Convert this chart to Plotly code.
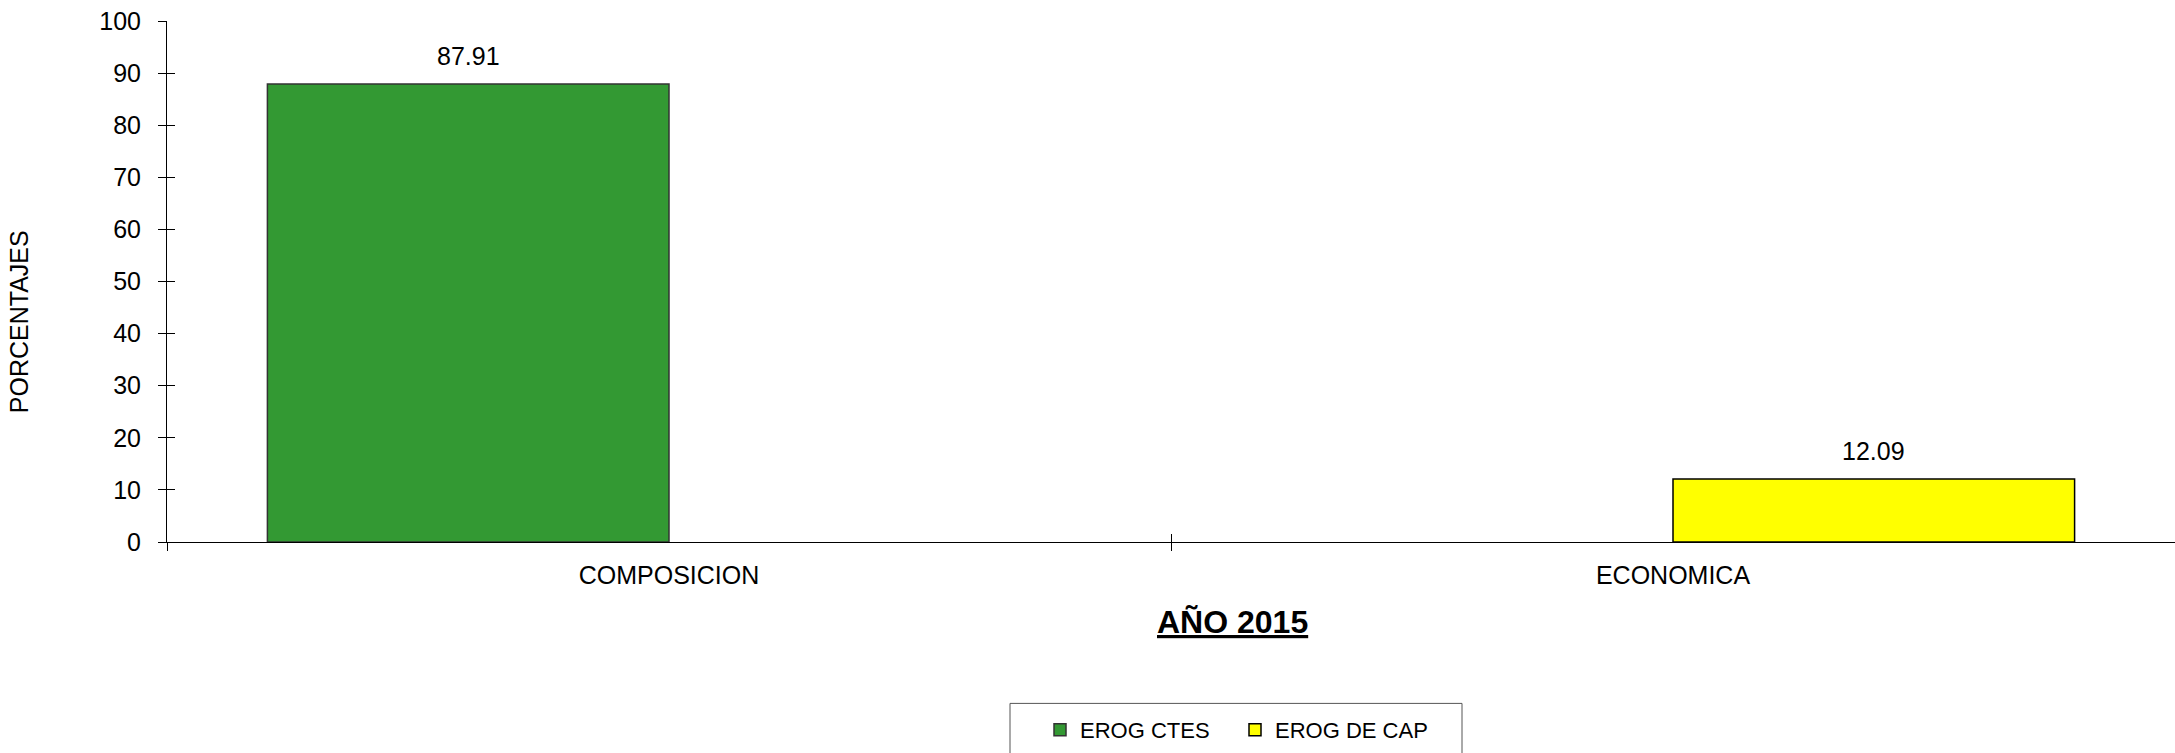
import plotly.graph_objects as go

categories = ["COMPOSICION", "ECONOMICA"]
series_names = ["EROG CTES", "EROG DE CAP"]
erog_ctes = [87.91, None]
erog_cap = [None, 12.09]
y_ticks = [0, 10, 20, 30, 40, 50, 60, 70, 80, 90, 100]

FONT = "Arial, Liberation Sans, sans-serif"
colors = ["#339933", "#FFFF00"]
edges = ["#333333", "#000000"]

W, H = 2175, 753
PLOT_L, PLOT_R, PLOT_T, PLOT_B = 167, 2175, 21, 541.7  # page pixels
ML = PLOT_L
MR = W - PLOT_R
MT = PLOT_T
MB = H - PLOT_B
PW, PH = W - ML - MR, H - MT - MB


def px_x(px):
    return (px - ML) / PW


def px_y(py):
    return (H - MB - py) / PH


fig = go.Figure()
for name, vals, col, edge in zip(series_names, [erog_ctes, erog_cap], colors, edges):
    fig.add_trace(go.Bar(
        x=categories, y=vals, name=name,
        marker=dict(color=col, line=dict(color=edge, width=1.5)),
        hoverinfo="x+y+name",
    ))

# invisible helper trace so that overlay axes (for crossing ticks) are drawn
fig.add_trace(go.Scatter(x=[], y=[], xaxis="x2", yaxis="y2", showlegend=False, hoverinfo="skip"))

# value labels
for si, vals in enumerate([erog_ctes, erog_cap]):
    for ci, v in enumerate(vals):
        if v is None:
            continue
        offset = -0.2 if si == 0 else 0.2
        fig.add_annotation(
            x=ci + offset, y=v, xref="x", yref="y",
            text=f"{v:.2f}", showarrow=False, yanchor="bottom", yshift=12,
            font=dict(family=FONT, size=25, color="#000000"),
        )

fig.add_annotation(
    x=px_x(19), y=px_y(322), xref="paper", yref="paper", text="PORCENTAJES",
    textangle=-90, showarrow=False, xanchor="center", yanchor="middle",
    font=dict(family=FONT, size=25, color="#000000"),
)
fig.add_annotation(
    x=px_x(1232), y=px_y(622), xref="paper", yref="paper", text="<b><u>AÑO 2015</u></b>",
    showarrow=False, xanchor="center", yanchor="middle",
    font=dict(family=FONT, size=32, color="#000000"),
)

# legend frame
fig.add_shape(
    type="rect", xref="paper", yref="paper",
    x0=px_x(1010), x1=px_x(1462), y0=px_y(703), y1=px_y(775),
    line=dict(color="#555555", width=1), fillcolor="rgba(0,0,0,0)", layer="above",
)

fig.update_layout(
    width=W, height=H,
    margin=dict(l=ML, r=MR, t=MT, b=MB, pad=0, autoexpand=False),
    paper_bgcolor="white", plot_bgcolor="white",
    barmode="group", bargap=0.2, bargroupgap=0,
    font=dict(family=FONT, size=25, color="#000000"),
    showlegend=True,
    legend=dict(
        orientation="h", xref="container", yref="container",
        x=1040 / W, xanchor="left", y=(H - 709) / H, yanchor="top",
        bgcolor="rgba(0,0,0,0)", borderwidth=0,
        font=dict(family=FONT, size=22, color="#000000"),
        entrywidth=150, entrywidthmode="pixels",
        traceorder="normal",
    ),
    xaxis=dict(
        type="category", categoryorder="array", categoryarray=categories,
        range=[-0.5, 1.5], automargin=False,
        showline=True, linecolor="#000000", linewidth=1,
        ticks="outside", ticklen=8, tickcolor="#000000", tickwidth=1,
        tickson="boundaries", showgrid=False, zeroline=False,
        tickfont=dict(family=FONT, size=25), ticklabelstandoff=11,
        fixedrange=True,
    ),
    yaxis=dict(
        range=[0, 100], tickvals=y_ticks, automargin=False,
        showline=True, linecolor="#000000", linewidth=1,
        ticks="outside", ticklen=8, tickcolor="#000000", tickwidth=1,
        showgrid=False, zeroline=False,
        tickfont=dict(family=FONT, size=25), ticklabelstandoff=12,
        ticklabeloverflow="allow",
        fixedrange=True,
    ),
    xaxis2=dict(
        overlaying="x", anchor="y", range=[-0.5, 1.5], tickvals=[0.5], automargin=False,
        ticks="inside", ticklen=8, tickcolor="#000000", tickwidth=1,
        showticklabels=False, showgrid=False, zeroline=False, showline=False,
        fixedrange=True,
    ),
    yaxis2=dict(
        overlaying="y", anchor="x", side="left", range=[0, 100], tickvals=y_ticks,
        automargin=False,
        ticks="inside", ticklen=8, tickcolor="#000000", tickwidth=1,
        showticklabels=False, showgrid=False, zeroline=False, showline=False,
        fixedrange=True,
    ),
)

fig.write_html(
    "out.html",
    config={"displayModeBar": False},
    post_script="document.body.style.margin='0';document.body.style.overflow='hidden';",
)
